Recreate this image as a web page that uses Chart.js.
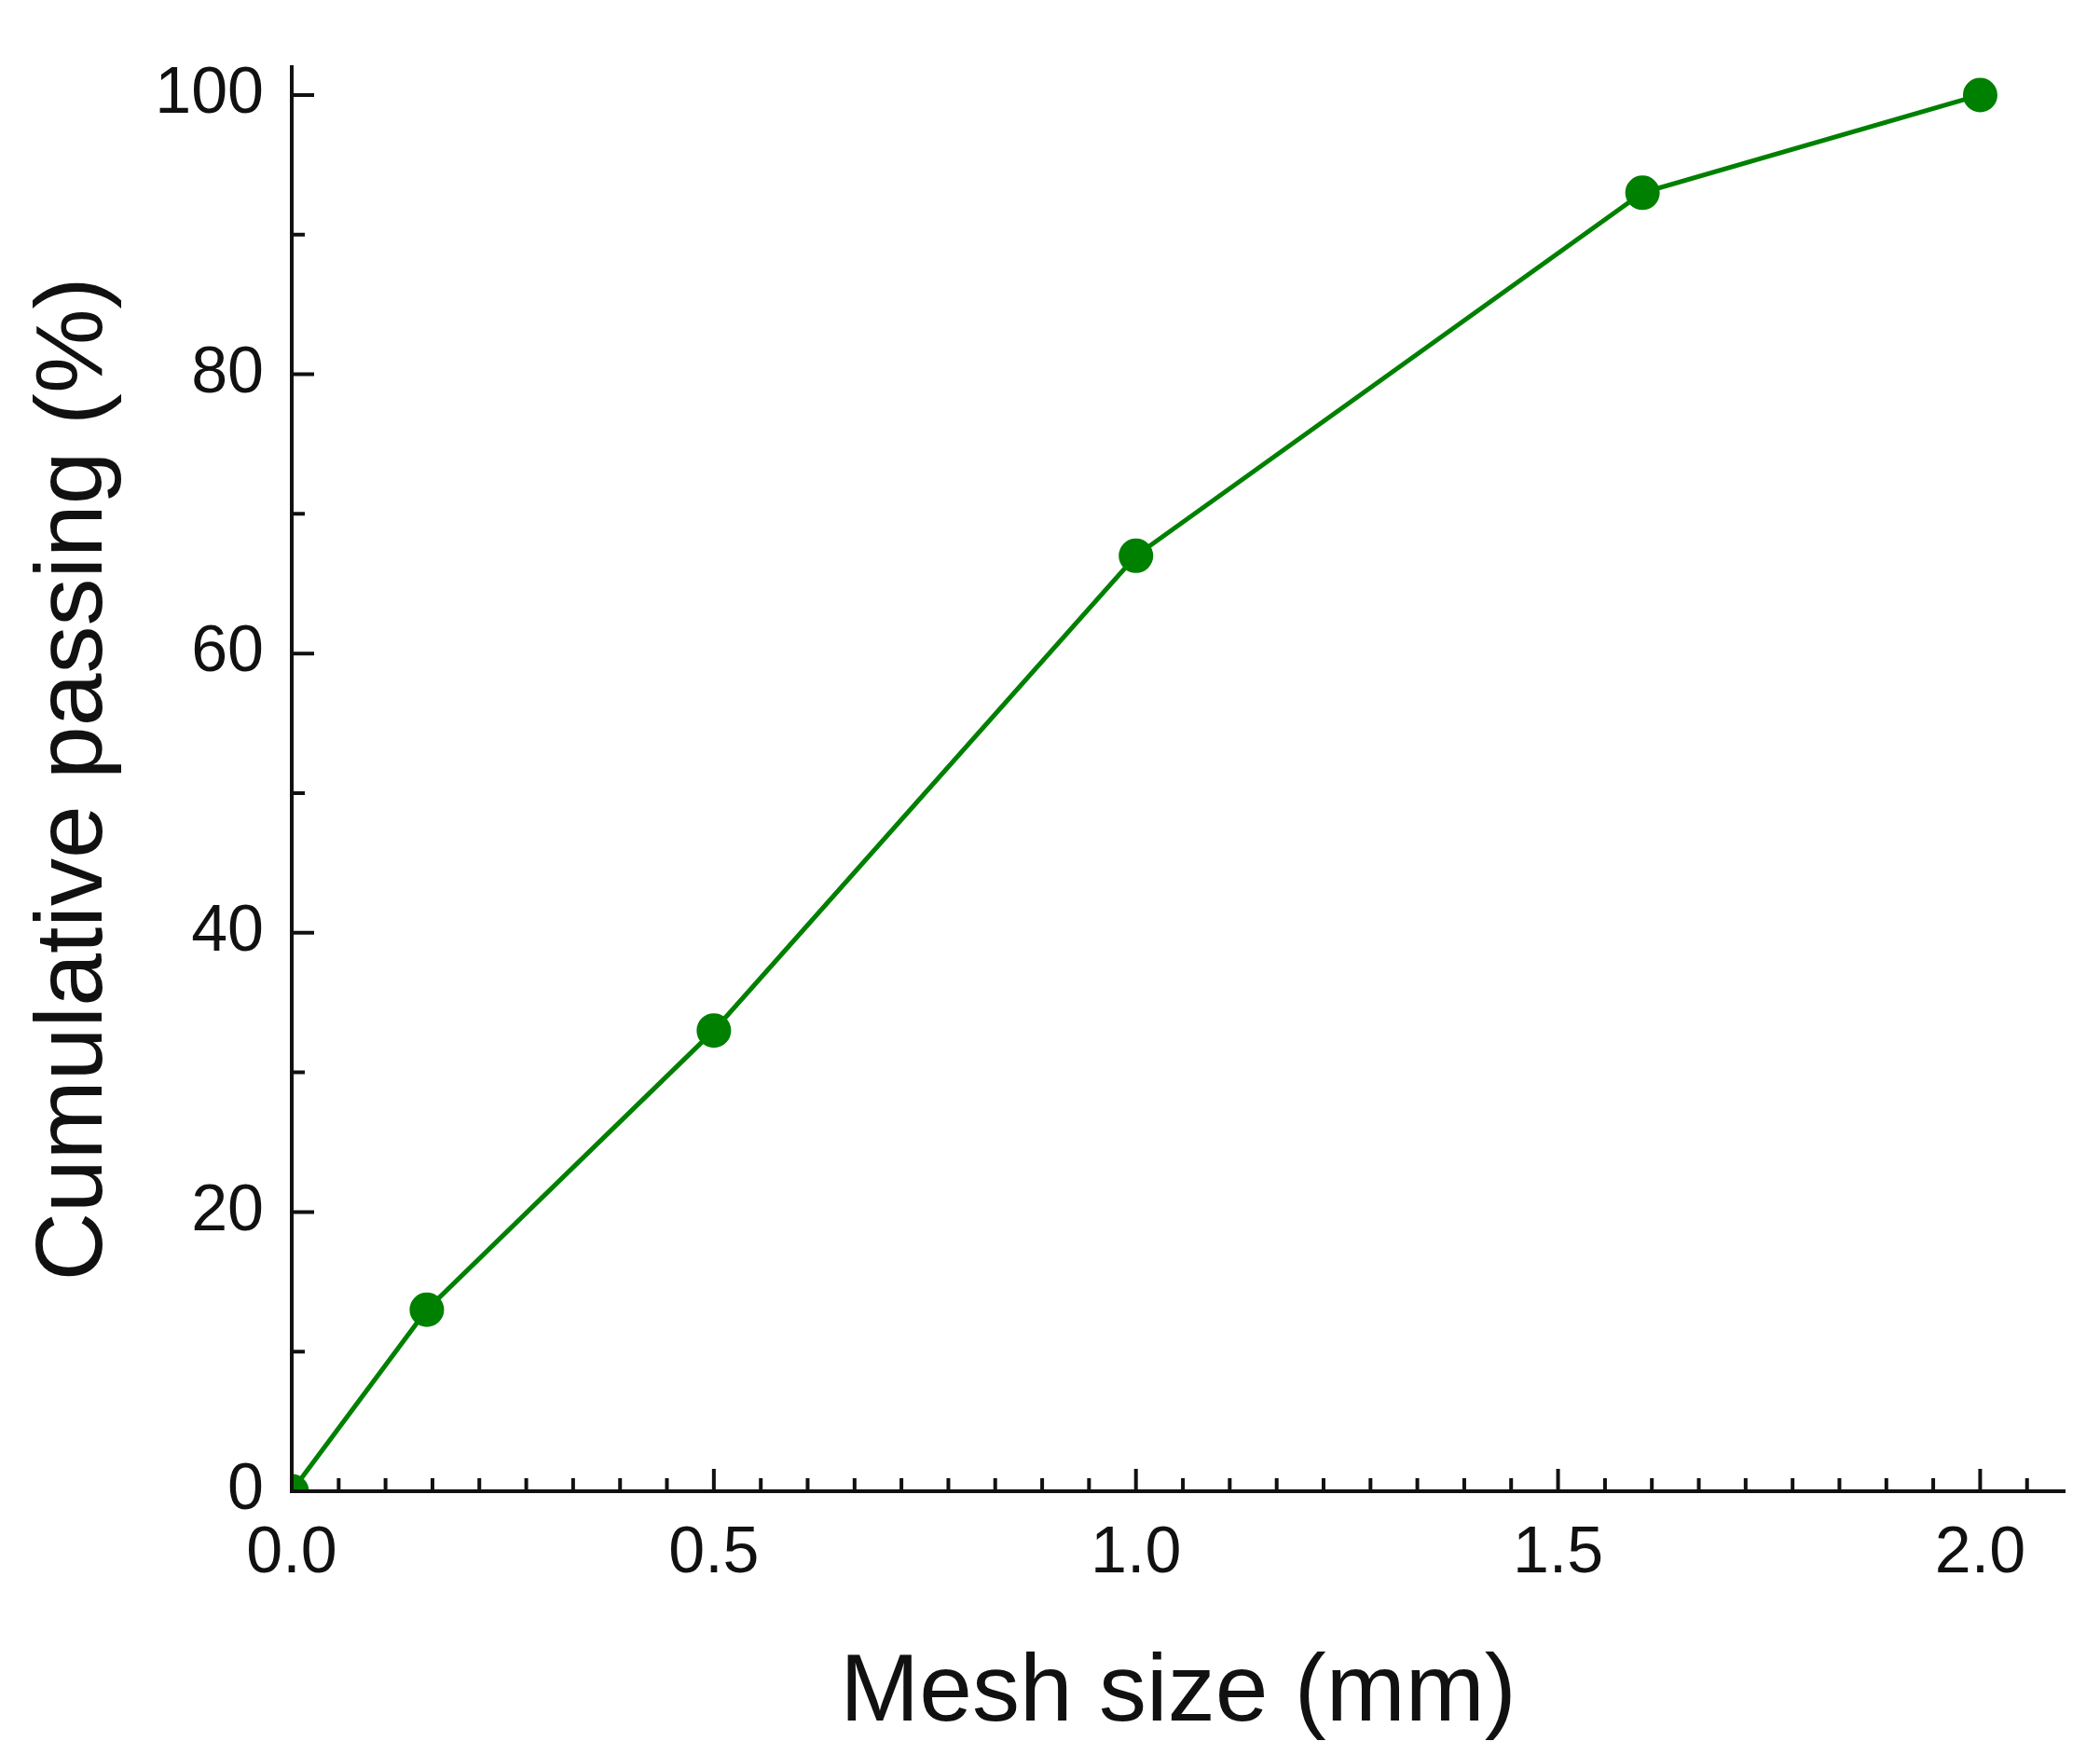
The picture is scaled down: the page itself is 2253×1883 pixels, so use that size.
<!DOCTYPE html>
<html><head><meta charset="utf-8">
<script src="https://cdn.jsdelivr.net/npm/chart.js@4"></script>
<style>html,body{margin:0;padding:0;background:#fff}#w{width:2253px;height:1883px}</style>
</head><body><div id="w"><canvas id="c"></canvas></div>
<script>
const meshSize = [0, 0.16, 0.5, 1.0, 1.6, 2.0];
const passing = [0, 13, 33, 67, 93, 100];
const xTickLabels = [0, 0.5, 1.0, 1.5, 2.0];
const yTickLabels = [0, 20, 40, 60, 80, 100];
const xMinorTicks = [];
for (let i = 0; i < 4; i++) for (let j = 1; j < 9; j++) xMinorTicks.push(+(i*0.5 + j*0.5/9).toFixed(4));
xMinorTicks.push(2.0 + 0.5/9);
const yMinorTicks = [10, 30, 50, 70, 90];

const tickPlugin = {
  id: 'inTicks',
  afterDraw(chart) {
    const {ctx, scales:{x, y}} = chart;
    ctx.save(); ctx.strokeStyle = '#111'; ctx.lineWidth = 4;
    const b = y.getPixelForValue(0), l = x.getPixelForValue(0);
    ctx.beginPath();
    xTickLabels.forEach(v => { const p = x.getPixelForValue(v); ctx.moveTo(p, b); ctx.lineTo(p, b - 24); });
    xMinorTicks.forEach(v => { const p = x.getPixelForValue(v); ctx.moveTo(p, b); ctx.lineTo(p, b - 14); });
    yTickLabels.forEach(v => { const p = y.getPixelForValue(v); ctx.moveTo(l, p); ctx.lineTo(l + 24, p); });
    yMinorTicks.forEach(v => { const p = y.getPixelForValue(v); ctx.moveTo(l, p); ctx.lineTo(l + 14, p); });
    ctx.stroke(); ctx.restore();
  }
};

new Chart(document.getElementById('c'), {
  type: 'line',
  data: { datasets: [{ data: meshSize.map((v,i)=>({x:v, y:passing[i]})),
    borderColor: '#008000', backgroundColor: '#008000', borderWidth: 5,
    pointRadius: 16, pointHoverRadius: 16, tension: 0 }] },
  options: {
    responsive: true, maintainAspectRatio: false, animation: false,
    layout: { padding: { top: 65, right: 38, left: 0, bottom: 0 } },
    plugins: { legend: { display: false }, tooltip: { enabled: false } },
    scales: {
      x: { type: 'linear', min: 0, max: 2.1,
        afterBuildTicks: s => { s.ticks = xTickLabels.map(v => ({value: v})); },
        afterFit: s => { s.height = 283; },
        ticks: { font: { family: 'Liberation Sans', size: 70 }, color: '#111', padding: 26,
          callback: v => v.toFixed(1), maxRotation: 0, autoSkip: false },
        grid: { drawOnChartArea: false, drawTicks: false },
        border: { color: '#111', width: 4 },
        title: { display: true, text: 'Mesh size (mm)', font: { family: 'Liberation Sans', size: 102 }, color: '#111', padding: { top: 44 } } },
      y: { type: 'linear', min: 0, max: 102,
        afterBuildTicks: s => { s.ticks = yTickLabels.map(v => ({value: v})); },
        afterFit: s => { s.width = 313; },
        ticks: { font: { family: 'Liberation Sans', size: 70 }, color: '#111', padding: 30, autoSkip: false },
        grid: { drawOnChartArea: false, drawTicks: false },
        border: { color: '#111', width: 4 },
        title: { display: true, text: 'Cumulative passing (%)', font: { family: 'Liberation Sans', size: 102 }, color: '#111', padding: { top: 20, bottom: 10 } } }
    }
  },
  plugins: [tickPlugin]
});
</script></body></html>
